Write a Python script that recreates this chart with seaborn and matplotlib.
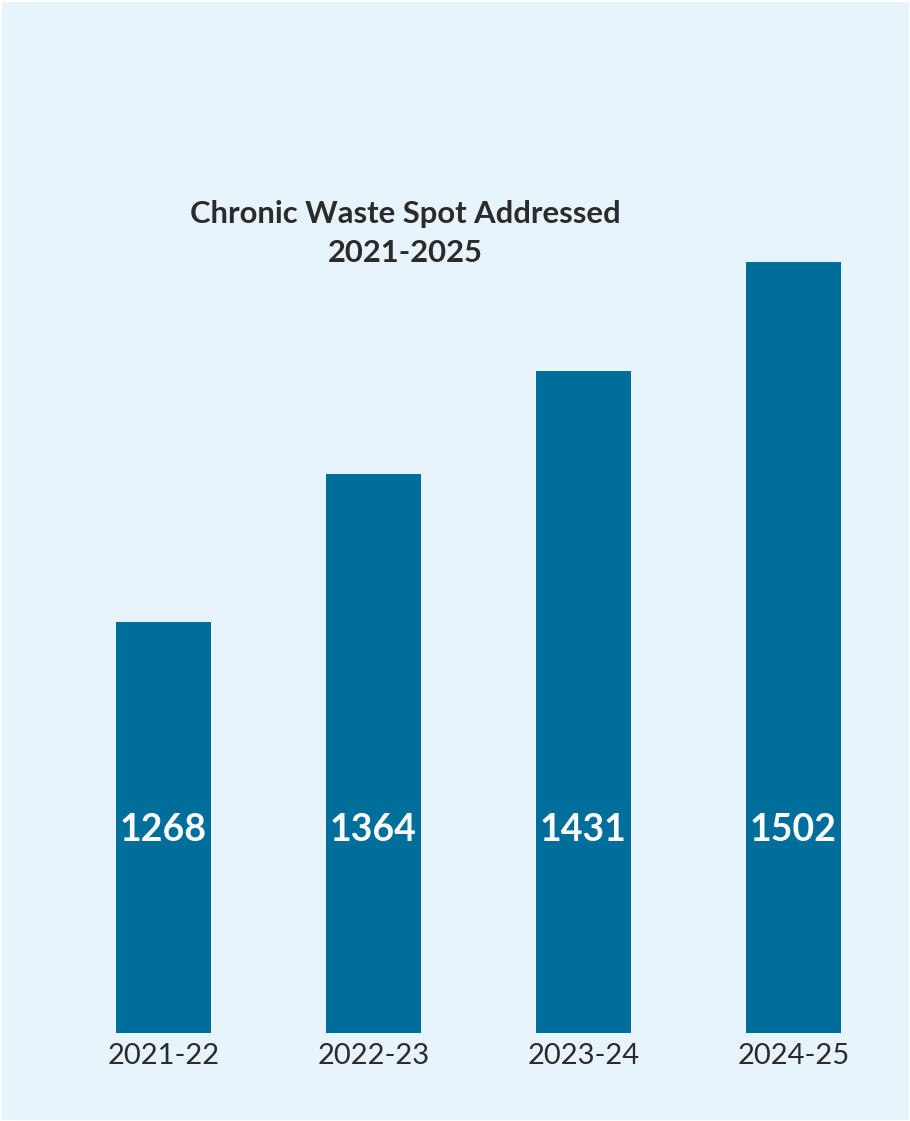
import matplotlib
matplotlib.use("Agg")
import matplotlib.pyplot as plt
import matplotlib.transforms as mtransforms
import seaborn as sns
import pandas as pd

categories = ["2021-22", "2022-23", "2023-24", "2024-25"]
values = [1268, 1364, 1431, 1502]
title_lines = ["Chronic Waste Spot Addressed", "2021-2025"]

BG = "#E8F4FC"
BAR = "#006E9B"
TXT = "#2B2B2B"

sns.set_theme(style="white")
plt.rcParams["font.family"] = ["Lato", "DejaVu Sans"]

fig = plt.figure(figsize=(9.10, 11.21), dpi=100)
fig.patch.set_facecolor(BG)
fig.patch.set_edgecolor("white")
fig.patch.set_linewidth(2)

W, H = 910, 1121
left, right = 58.5, 898.5
bottom, top = 1033, 100
ax = fig.add_axes([left / W, (H - bottom) / H, (right - left) / W, (bottom - top) / H])
ax.set_facecolor(BG)

df = pd.DataFrame({"period": categories, "count": values})
sns.barplot(data=df, x="period", y="count", color=BAR, saturation=1,
            width=0.452, linewidth=0, edgecolor=BAR, ax=ax)

ax.set_ylim(1001, 1607)
ax.set_xlim(-0.5, 3.5)
for s in ax.spines.values():
    s.set_visible(False)
ax.set_yticks([])
ax.set_xlabel("")
ax.set_ylabel("")
ax.tick_params(axis="x", length=0, pad=7.5, labelsize=21, labelcolor=TXT)

trans = mtransforms.blended_transform_factory(ax.transData, ax.transAxes)
for i, v in enumerate(values):
    ax.text(i, 0.218, f"{v}", transform=trans, ha="center", va="center",
            color="white", fontsize=27, fontweight="bold")

fig.text(405 / W, 1 - 214 / H, title_lines[0], ha="center", va="center",
         fontsize=22.3, fontweight="bold", color=TXT)
fig.text(405 / W, 1 - 253 / H, title_lines[1], ha="center", va="center",
         fontsize=22.3, fontweight="bold", color=TXT)

fig.savefig("out.png", dpi=100, facecolor=fig.get_facecolor(),
            edgecolor=fig.patch.get_edgecolor())
